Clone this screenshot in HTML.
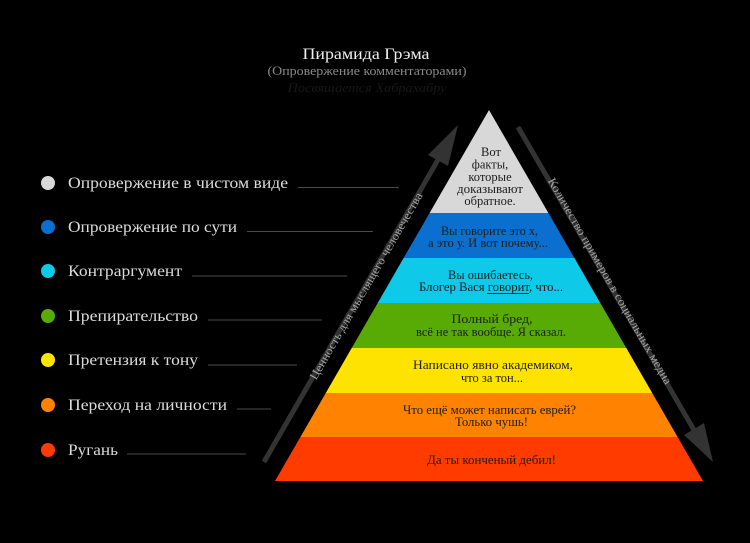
<!DOCTYPE html>
<html><head><meta charset="utf-8"><style>
html,body{margin:0;padding:0;background:#000;}
svg{display:block;}
text{font-family:"Liberation Serif","DejaVu Serif",serif;}
</style></head><body>
<svg width="750" height="543" viewBox="0 0 750 543" xmlns="http://www.w3.org/2000/svg">
<rect width="750" height="543" fill="#000"/>
<!-- Title -->
<text x="366" y="59" font-size="16" fill="#f0f0f0" text-anchor="middle" textLength="127" lengthAdjust="spacingAndGlyphs">Пирамида Грэма</text>
<text x="367" y="75" font-size="13" fill="#8a8a8a" text-anchor="middle" textLength="199" lengthAdjust="spacingAndGlyphs">(Опровержение комментаторами)</text>
<text x="367" y="92" font-size="13" font-style="italic" fill="#181818" text-anchor="middle" textLength="159" lengthAdjust="spacingAndGlyphs">Посвящается Хабрахабру</text>

<!-- Pyramid layers -->
<polygon points="489,110 548.4,213 429.6,213" fill="#d8d8d8"/>
<polygon points="429.6,213 548.4,213 574.4,258 403.6,258" fill="#0b6fcf"/>
<polygon points="403.6,258 574.4,258 600.3,303 377.7,303" fill="#0ecae8"/>
<polygon points="377.7,303 600.3,303 626.3,348 351.7,348" fill="#58ab04"/>
<polygon points="351.7,348 626.3,348 652.2,393 325.8,393" fill="#ffe300"/>
<polygon points="325.8,393 652.2,393 677.6,437 300.4,437" fill="#ff8300"/>
<polygon points="300.4,437 677.6,437 703,481 275,481" fill="#ff3b00"/>

<!-- Pyramid texts -->
<g font-size="12.5" fill="#1e1e1e" text-anchor="middle">
<text x="491" y="156">Вот</text>
<text x="490" y="168.5">факты,</text>
<text x="490" y="181">которые</text>
<text x="490" y="193" textLength="66" lengthAdjust="spacingAndGlyphs">доказывают</text>
<text x="490" y="205">обратное.</text>

<text x="489.5" y="235" textLength="97" lengthAdjust="spacingAndGlyphs">Вы говорите это х,</text>
<text x="488" y="247" textLength="120" lengthAdjust="spacingAndGlyphs">а это у. И вот почему...</text>

<text x="490.5" y="279" textLength="85" lengthAdjust="spacingAndGlyphs">Вы ошибаетесь,</text>
<text x="491" y="291" textLength="144" lengthAdjust="spacingAndGlyphs">Блогер Вася говорит, что...</text>

<text x="492" y="323" textLength="81" lengthAdjust="spacingAndGlyphs">Полный бред,</text>
<text x="491" y="336" textLength="150" lengthAdjust="spacingAndGlyphs">всё не так вообще. Я сказал.</text>

<text x="493" y="369" textLength="160" lengthAdjust="spacingAndGlyphs">Написано явно академиком,</text>
<text x="492" y="382" textLength="62" lengthAdjust="spacingAndGlyphs">что за тон...</text>

<text x="489.5" y="414" textLength="173" lengthAdjust="spacingAndGlyphs">Что ещё может написать еврей?</text>
<text x="491.5" y="426" textLength="73" lengthAdjust="spacingAndGlyphs">Только чушь!</text>

<text x="491.5" y="464" textLength="129" lengthAdjust="spacingAndGlyphs">Да ты конченый дебил!</text>
</g>
<line x1="487" y1="293.5" x2="529" y2="293.5" stroke="#1e1e1e" stroke-width="1"/>

<!-- Arrows -->
<line x1="264" y1="462" x2="439" y2="158" stroke="#333" stroke-width="5"/>
<polygon points="458,125 448,166 428,155" fill="#333"/>
<line x1="518" y1="127" x2="694" y2="430" stroke="#333" stroke-width="5"/>
<polygon points="713,462 704,423 684,435" fill="#333"/>

<text x="366" y="290" font-size="12" fill="#a4a4a4" text-anchor="middle" transform="rotate(-60 366 286)" textLength="214" lengthAdjust="spacingAndGlyphs">Ценность для мыслящего человечества</text>
<text x="610" y="285" font-size="12" fill="#a4a4a4" text-anchor="middle" transform="rotate(60 610 281)" textLength="236" lengthAdjust="spacingAndGlyphs">Количество примеров в социальных медиа</text>

<!-- Legend -->
<g font-size="16" fill="#dcdcdc">
<circle cx="48" cy="183" r="7" fill="#d8d8d8"/>
<text x="68" y="188" textLength="220" lengthAdjust="spacingAndGlyphs">Опровержение в чистом виде</text>
<circle cx="48" cy="227" r="7" fill="#0b6fcf"/>
<text x="68" y="232" textLength="169" lengthAdjust="spacingAndGlyphs">Опровержение по сути</text>
<circle cx="48" cy="271" r="7" fill="#0ecae8"/>
<text x="68" y="276" textLength="114" lengthAdjust="spacingAndGlyphs">Контраргумент</text>
<circle cx="48" cy="316" r="7" fill="#58ab04"/>
<text x="68" y="321" textLength="130" lengthAdjust="spacingAndGlyphs">Препирательство</text>
<circle cx="48" cy="360" r="7" fill="#ffe300"/>
<text x="68" y="365" textLength="130" lengthAdjust="spacingAndGlyphs">Претензия к тону</text>
<circle cx="48" cy="405" r="7" fill="#ff8300"/>
<text x="68" y="410" textLength="159" lengthAdjust="spacingAndGlyphs">Переход на личности</text>
<circle cx="48" cy="450" r="7" fill="#ff3b00"/>
<text x="68" y="455" textLength="50" lengthAdjust="spacingAndGlyphs">Ругань</text>
</g>
<g stroke="#4a4a4a" stroke-width="1">
<line x1="298" y1="187.5" x2="399" y2="187.5"/>
<line x1="247" y1="231.5" x2="373" y2="231.5"/>
<line x1="192" y1="276" x2="347" y2="276"/>
<line x1="208" y1="320" x2="322" y2="320"/>
<line x1="208" y1="365" x2="297" y2="365"/>
<line x1="237" y1="409" x2="271" y2="409"/>
<line x1="127" y1="454" x2="246" y2="454"/>
</g>
</svg>
</body></html>
